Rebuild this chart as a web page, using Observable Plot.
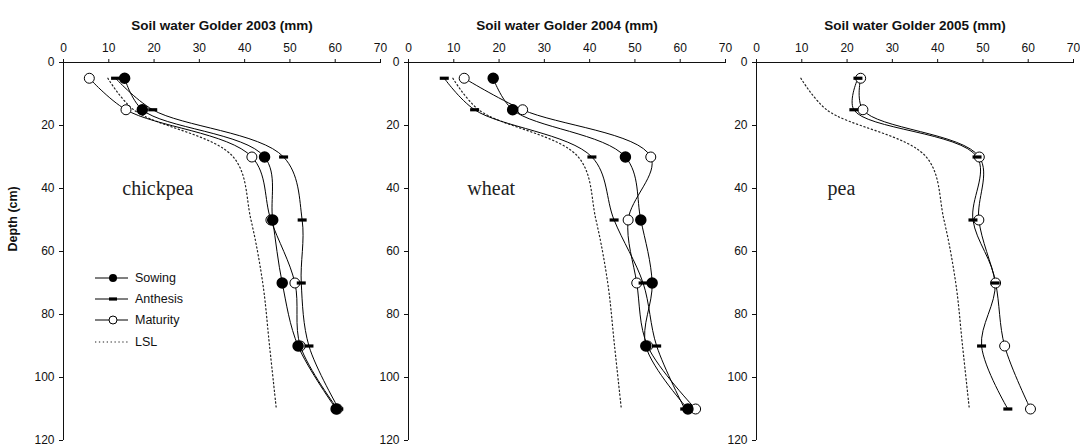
<!DOCTYPE html>
<html>
<head>
<meta charset="utf-8">
<script src="https://cdn.jsdelivr.net/npm/d3@7"></script>
<script src="https://cdn.jsdelivr.net/npm/@observablehq/plot@0.6"></script>
<style>
  html, body { margin: 0; padding: 0; background: #fff; }
  #wrap { position: relative; width: 1080px; height: 446px; overflow: hidden; background: #fff; }
  #wrap > svg, #wrap > figure { position: absolute; top: 0; margin: 0; }
</style>
</head>
<body>
<div id="wrap"></div>
<script>
// ---------- data ----------
const depths = [5, 15, 30, 50, 70, 90, 110];
const xTicks = [0, 10, 20, 30, 40, 50, 60, 70];
const yTicks = [0, 20, 40, 60, 80, 100, 120];
const titles = ["Soil water Golder 2003 (mm)", "Soil water Golder 2004 (mm)", "Soil water Golder 2005 (mm)"];
const crops = ["chickpea", "wheat", "pea"];
const seriesNames = ["Sowing", "Anthesis", "Maturity", "LSL"];
const lsl = [9.8, 15.5, 37.5, 41.4, 44, 45.5, 47];

const chickpeaSowing   = [13.5, 17.4, 44.4, 46.2, 48.3, 51.8, 60.2];
const chickpeaAnthesis = [11.5, 19.7, 48.6, 52.7, 52.5, 54.2, 60.8];
const chickpeaMaturity = [5.7, 13.8, 41.6, 45.8, 51.1, 52.3, 60.5];

const wheatSowing   = [18.7, 23.0, 47.9, 51.3, 53.8, 52.4, 61.7];
const wheatAnthesis = [7.9, 14.6, 40.5, 45.4, 51.8, 54.8, 61.0];
const wheatMaturity = [12.3, 25.2, 53.5, 48.5, 50.4, 52.8, 63.4];

const peaSowing   = [];
const peaAnthesis = [22.4, 21.5, 48.7, 47.8, 52.7, 49.7, 55.5];
const peaMaturity = [23.0, 23.5, 49.2, 49.1, 52.8, 54.8, 60.5];

const panelData = [
  {sowing: chickpeaSowing, anthesis: chickpeaAnthesis, maturity: chickpeaMaturity},
  {sowing: wheatSowing, anthesis: wheatAnthesis, maturity: wheatMaturity},
  {sowing: peaSowing, anthesis: peaAnthesis, maturity: peaMaturity}
];

// ---------- layout ----------
const W = 387, H = 446;
const lefts = [0, 345, 693];
const FONT = "'Liberation Sans', Arial, Helvetica, sans-serif";

const barSymbol = {draw(ctx) { ctx.rect(-4.5, -1.6, 9, 3.2); }};

function toRows(vals) { return vals.map((v, i) => ({depth: depths[i], value: v})); }

function panel(i) {
  const d = panelData[i];
  const sow = toRows(d.sowing), ant = toRows(d.anthesis), mat = toRows(d.maturity), lslRows = toRows(lsl);
  const lineOpts = {x: "value", y: "depth", curve: "catmull-rom", stroke: "black", strokeWidth: 1};
  return Plot.plot({
    width: W, height: H,
    marginLeft: 63, marginRight: 7, marginTop: 62, marginBottom: 6,
    style: {fontFamily: FONT, fontSize: "12px", background: "transparent", overflow: "visible", color: "#111"},
    x: {domain: [0, 70]},
    y: {domain: [0, 120], reverse: true},
    marks: [
      Plot.ruleY([0], {stroke: "#111"}),
      Plot.ruleX([0], {stroke: "#111"}),
      Plot.axisX({anchor: "top", ticks: xTicks, tickSize: 4, tickPadding: 7, label: null}),
      Plot.axisY({anchor: "left", ticks: yTicks, tickSize: 4, tickPadding: 5, label: null}),
      Plot.text([titles[i]], {frameAnchor: "top", dy: -42, fontWeight: "bold", fontSize: 13.5, fill: "#111"}),
      i === 0 ? Plot.text(["Depth (cm)"], {frameAnchor: "left", dx: -51, rotate: -90, fontWeight: "bold", fontSize: 12.5, fill: "#111"}) : null,
      Plot.text([crops[i]], {x: [13, 13, 15.7][i], y: 40, textAnchor: "start", fontFamily: "'Liberation Serif', 'Times New Roman', serif", fontSize: 20, fill: "#222"}),
      Plot.line(lslRows, {...lineOpts, stroke: "#222", strokeWidth: 1.2, strokeDasharray: "1.3,2.6"}),
      Plot.line(sow, lineOpts),
      Plot.line(ant, lineOpts),
      Plot.line(mat, lineOpts),
      Plot.dot(mat, {x: "value", y: "depth", r: 5, fill: "white", stroke: "black", strokeWidth: 1}),
      Plot.dot(sow, {x: "value", y: "depth", r: 5, fill: "black", stroke: "black"}),
      Plot.dot(ant, {x: "value", y: "depth", symbol: barSymbol, fill: "black", stroke: "none"})
    ].filter(Boolean)
  });
}

const wrap = document.getElementById("wrap");
[0, 1, 2].forEach(i => {
  const svg = panel(i);
  svg.style.position = "absolute";
  svg.style.left = lefts[i] + "px";
  svg.style.top = "0px";
  wrap.appendChild(svg);
});

// ---------- legend ----------
const leg = d3.select(wrap).append("svg")
  .attr("width", 120).attr("height", 90)
  .style("position", "absolute").style("left", "90px").style("top", "266px")
  .style("font-family", FONT).style("font-size", "12.5px");
const rowsY = [12, 33, 54, 76];
seriesNames.forEach((name, k) => {
  const g = leg.append("g").attr("transform", `translate(0,${rowsY[k]})`);
  if (name === "LSL") {
    g.append("line").attr("x1", 5).attr("x2", 38).attr("stroke", "#222").attr("stroke-width", 1.2).attr("stroke-dasharray", "1.3,2.6");
  } else {
    g.append("line").attr("x1", 5).attr("x2", 38).attr("stroke", "black");
  }
  if (name === "Sowing") g.append("circle").attr("cx", 23).attr("r", 4).attr("fill", "black");
  if (name === "Anthesis") g.append("rect").attr("x", 19).attr("y", -1.6).attr("width", 8).attr("height", 3.2).attr("fill", "black");
  if (name === "Maturity") g.append("circle").attr("cx", 23).attr("r", 4).attr("fill", "white").attr("stroke", "black");
  g.append("text").attr("x", 45).attr("dy", "0.35em").attr("fill", "#111").text(name);
});
</script>
</body>
</html>
